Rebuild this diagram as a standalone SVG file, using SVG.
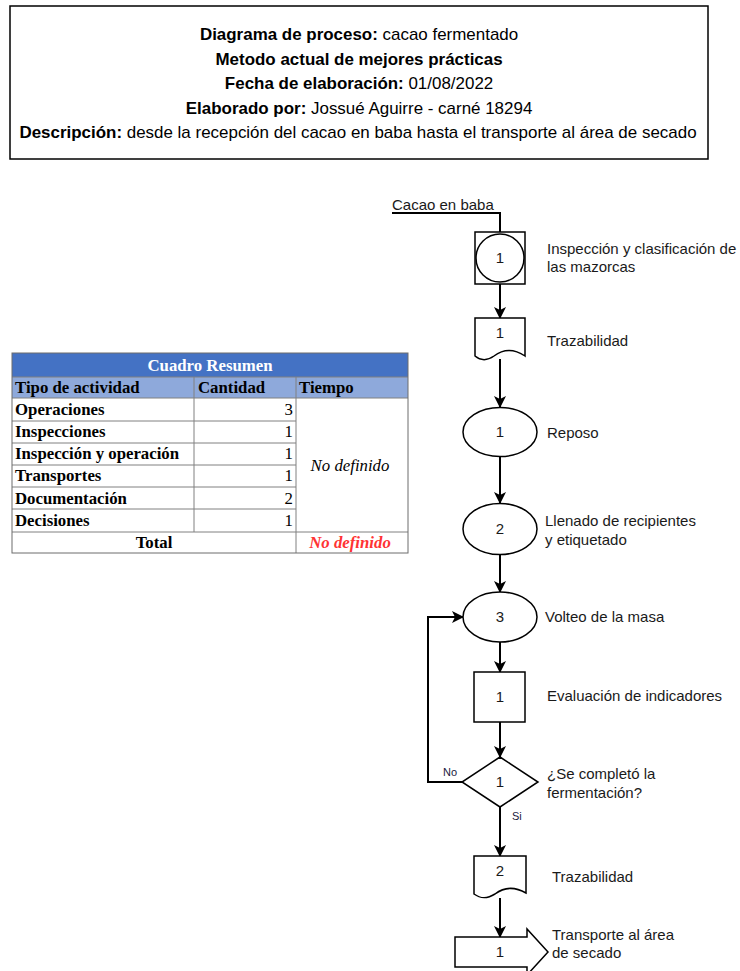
<svg xmlns="http://www.w3.org/2000/svg" width="740" height="971" viewBox="0 0 740 971">
  <style>
    .hd { font-family: "Liberation Sans", Arial, sans-serif; font-size: 16px; fill: #000; text-anchor: middle; }
    .hd .b { font-weight: bold; }
    .lbl { font-family: "Liberation Sans", Arial, sans-serif; font-size: 15px; fill: #1a1a1a; }
    .num { font-family: "Liberation Sans", Arial, sans-serif; font-size: 15px; fill: #1a1a1a; text-anchor: middle; }
    .small { font-family: "Liberation Sans", Arial, sans-serif; font-size: 11px; fill: #1a1a40; }
    .shape { fill: #fff; stroke: #000; stroke-width: 1.5; }
    .conn { fill: none; stroke: #000; stroke-width: 2; }
    .tb { font-family: "Liberation Serif", "Times New Roman", serif; font-size: 16.8px; font-weight: bold; fill: #000; }
    .grid { stroke: #808080; stroke-width: 1; fill: none; }
  </style>
  <defs>
    <marker id="arrow" viewBox="0 0 12 12" refX="11" refY="6" markerWidth="12" markerHeight="12" markerUnits="userSpaceOnUse" orient="auto">
      <path d="M0,0 L12,6 L0,12 L3,6 z" fill="#000"/>
    </marker>
  </defs>

  <!-- header -->
  <g id="header">
    <rect x="10" y="6" width="698" height="153" fill="#fff" stroke="#000" stroke-width="1.5"/>
    <g transform="translate(358,0) scale(1.06,1) translate(-358,0)">
      <text class="hd" x="359" y="40"><tspan class="b">Diagrama de proceso:</tspan> cacao fermentado</text>
      <text class="hd" x="359" y="65"><tspan class="b">Metodo actual de mejores prácticas</tspan></text>
      <text class="hd" x="359" y="89"><tspan class="b">Fecha de elaboración:</tspan> 01/08/2022</text>
      <text class="hd" x="359" y="114"><tspan class="b">Elaborado por:</tspan> Jossué Aguirre - carné 18294</text>
      <text class="hd" x="358" y="138"><tspan class="b">Descripción:</tspan> desde la recepción del cacao en baba hasta el transporte al área de secado</text>
    </g>
  </g>

  <!-- summary table -->
  <g id="summary-table">
    <rect x="12" y="353" width="396" height="24" fill="#4472C4"/>
    <rect x="12" y="377" width="396" height="21" fill="#8EA9DB"/>
    <rect x="12" y="398" width="396" height="155" fill="#fff"/>
    <g class="grid">
      <line x1="12" y1="377" x2="408" y2="377"/>
      <line x1="12" y1="398" x2="408" y2="398"/>
      <line x1="12" y1="421" x2="296" y2="421"/>
      <line x1="12" y1="443" x2="296" y2="443"/>
      <line x1="12" y1="465" x2="296" y2="465"/>
      <line x1="12" y1="487" x2="296" y2="487"/>
      <line x1="12" y1="509" x2="296" y2="509"/>
      <line x1="12" y1="532" x2="408" y2="532"/>
      <line x1="194" y1="377" x2="194" y2="532"/>
      <line x1="296" y1="377" x2="296" y2="553"/>
      <rect x="12" y="353" width="396" height="200" stroke="#6d6d6d"/>
    </g>
    <text class="tb" x="210" y="371" style="fill:#fff" text-anchor="middle">Cuadro Resumen</text>
    <text class="tb" x="15" y="393">Tipo de actividad</text>
    <text class="tb" x="198" y="393">Cantidad</text>
    <text class="tb" x="299" y="393">Tiempo</text>
    <text class="tb" x="15" y="415">Operaciones</text>
    <text class="tb" x="15" y="437">Inspecciones</text>
    <text class="tb" x="15" y="459">Inspección y operación</text>
    <text class="tb" x="15" y="481">Transportes</text>
    <text class="tb" x="15" y="504">Documentación</text>
    <text class="tb" x="15" y="526">Decisiones</text>
    <g class="tb" style="font-weight:normal" text-anchor="end">
      <text x="293" y="415">3</text>
      <text x="293" y="437">1</text>
      <text x="293" y="459">1</text>
      <text x="293" y="481">1</text>
      <text x="293" y="504">2</text>
      <text x="293" y="526">1</text>
    </g>
    <text class="tb" x="350" y="471" text-anchor="middle" style="font-weight:normal;font-style:italic">No definido</text>
    <text class="tb" x="154" y="548" text-anchor="middle">Total</text>
    <text class="tb" x="350" y="548" text-anchor="middle" style="font-style:italic;fill:#FF3333">No definido</text>
  </g>

  <!-- connectors -->
  <g id="connectors">
    <polyline class="conn" points="392,213 500,213 500,232" stroke-width="1.5"/>
    <line class="conn" x1="500" y1="284" x2="500" y2="318" marker-end="url(#arrow)"/>
    <line class="conn" x1="500" y1="359" x2="500" y2="407" marker-end="url(#arrow)"/>
    <line class="conn" x1="500" y1="457" x2="500" y2="503" marker-end="url(#arrow)"/>
    <line class="conn" x1="500" y1="555" x2="500" y2="592" marker-end="url(#arrow)"/>
    <line class="conn" x1="500" y1="642" x2="500" y2="672" marker-end="url(#arrow)"/>
    <line class="conn" x1="500" y1="722" x2="500" y2="757" marker-end="url(#arrow)"/>
    <polyline class="conn" points="462,782 428,782 428,617 463,617" marker-end="url(#arrow)"/>
    <line class="conn" x1="500" y1="807" x2="500" y2="856" marker-end="url(#arrow)"/>
    <line class="conn" x1="500" y1="898" x2="500" y2="937" marker-end="url(#arrow)"/>
    <text class="small" x="443" y="776">No</text>
    <text class="small" x="512" y="820">Si</text>
  </g>

  <!-- nodes -->
  <g id="start-label">
    <text class="lbl" x="392" y="210">Cacao en baba</text>
  </g>

  <g id="inspection-operation-1">
    <rect class="shape" x="475" y="232" width="50" height="52"/>
    <circle class="shape" cx="500" cy="258" r="24"/>
    <text class="num" x="500" y="263">1</text>
    <text class="lbl" x="547" y="254">Inspección y clasificación de</text>
    <text class="lbl" x="547" y="272">las mazorcas</text>
  </g>

  <g id="document-1">
    <path class="shape" d="M475,318 H525 V356 C513,348 502,350 494,356 C487,361 481,361 475,356 Z"/>
    <text class="num" x="500" y="338">1</text>
    <text class="lbl" x="547" y="346">Trazabilidad</text>
  </g>

  <g id="operation-1">
    <ellipse class="shape" cx="500" cy="432" rx="37" ry="24.5"/>
    <text class="num" x="500" y="437">1</text>
    <text class="lbl" x="547" y="438">Reposo</text>
  </g>

  <g id="operation-2">
    <ellipse class="shape" cx="500" cy="529" rx="37" ry="25.5"/>
    <text class="num" x="500" y="534">2</text>
    <text class="lbl" x="545" y="526">Llenado de recipientes</text>
    <text class="lbl" x="545" y="545">y etiquetado</text>
  </g>

  <g id="operation-3">
    <ellipse class="shape" cx="500" cy="617" rx="37" ry="25"/>
    <text class="num" x="500" y="622">3</text>
    <text class="lbl" x="545" y="622">Volteo de la masa</text>
  </g>

  <g id="inspection-1">
    <rect class="shape" x="474" y="672" width="51" height="50"/>
    <text class="num" x="500" y="702">1</text>
    <text class="lbl" x="547" y="701">Evaluación de indicadores</text>
  </g>

  <g id="decision-1">
    <polygon class="shape" points="500,757 538,782 500,807 462,782"/>
    <text class="num" x="500" y="787">1</text>
    <text class="lbl" x="547" y="779">¿Se completó la</text>
    <text class="lbl" x="547" y="798">fermentación?</text>
  </g>

  <g id="document-2">
    <path class="shape" d="M474,856 H526 V893 C514,886 503,888 495,894 C487,899 481,899 474,894 Z"/>
    <text class="num" x="500" y="876">2</text>
    <text class="lbl" x="552" y="882">Trazabilidad</text>
  </g>

  <g id="transport-1">
    <path class="shape" d="M455,937 H527 V929 L548,952 L527,975 V967 H455 Z"/>
    <text class="num" x="500" y="957">1</text>
    <text class="lbl" x="552" y="940">Transporte al área</text>
    <text class="lbl" x="552" y="958">de secado</text>
  </g>
</svg>
